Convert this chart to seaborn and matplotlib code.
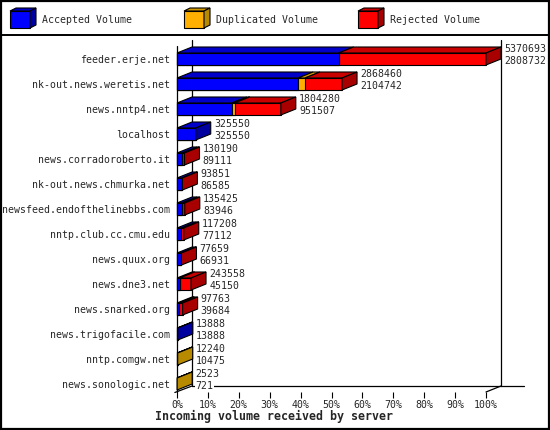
import matplotlib
matplotlib.use("Agg")
import matplotlib.pyplot as plt
from matplotlib.patches import Polygon, Rectangle
import numpy as np
import pandas as pd
import seaborn as sns

# ---------------- data ----------------
servers = ["feeder.erje.net", "nk-out.news.weretis.net", "news.nntp4.net", "localhost",
           "news.corradoroberto.it", "nk-out.news.chmurka.net", "newsfeed.endofthelinebbs.com",
           "nntp.club.cc.cmu.edu", "news.quux.org", "news.dne3.net", "news.snarked.org",
           "news.trigofacile.com", "nntp.comgw.net", "news.sonologic.net"]
total_volume = [5370693, 2868460, 1804280, 325550, 130190, 93851, 135425,
                117208, 77659, 243558, 97763, 13888, 12240, 2523]
accepted_volume = [2808732, 2104742, 951507, 325550, 89111, 86585, 83946,
                   77112, 66931, 45150, 39684, 13888, 10475, 721]
duplicated_volume = [0, 120000, 50000, 0, 0, 0, 0, 0, 0, 0, 0, 0, 1765, 1802]
rejected_volume = [2561961, 643718, 802773, 0, 41079, 7266, 51479,
                   40096, 10728, 198408, 58079, 0, 0, 0]
tick_values = [0, 10, 20, 30, 40, 50, 60, 70, 80, 90, 100]
legend_labels = ["Accepted Volume", "Duplicated Volume", "Rejected Volume"]
title_text = "Incoming volume received by server"

# ---------------- style ----------------
sns.set_style("white")
plt.rcParams["font.family"] = ["DejaVu Sans Mono"]
FS = 6.9

BLUE = ("#0000FF", "#0000C8", "#0000A0")
ORANGE = ("#FFB000", "#D09A00", "#B88A00")
RED = ("#FF0000", "#C80000", "#A80000")

df = pd.DataFrame({
    "server": servers,
    "total": total_volume,
    "accepted": accepted_volume,
    "duplicated": duplicated_volume,
    "rejected": rejected_volume,
})
vmax = df["total"].max()
df["acc_pct"] = df["accepted"] / vmax * 100
df["accdup_pct"] = (df["accepted"] + df["duplicated"]) / vmax * 100
df["tot_pct"] = (df["accepted"] + df["duplicated"] + df["rejected"]) / vmax * 100

W, H = 550, 430
fig = plt.figure(figsize=(W / 100, H / 100), dpi=100)
fig.patch.set_facecolor("white")

# main axes: x 0..100 maps to px 177..486, rows at px 59 + 25*i
ax_left, ax_right, ax_top, ax_bot = 177, 486, 40, 392
ax = fig.add_axes([ax_left / W, (H - ax_bot) / H, (ax_right - ax_left) / W, (ax_bot - ax_top) / H])
ax.set_facecolor("none")

BAR_H = 0.48
sns.barplot(data=df, x="tot_pct", y="server", orient="h", color=RED[0], saturation=1,
            width=BAR_H, edgecolor="black", linewidth=0.8, ax=ax, zorder=3)
sns.barplot(data=df, x="accdup_pct", y="server", orient="h", color=ORANGE[0], saturation=1,
            width=BAR_H, edgecolor="black", linewidth=0.8, ax=ax, zorder=3)
sns.barplot(data=df, x="acc_pct", y="server", orient="h", color=BLUE[0], saturation=1,
            width=BAR_H, edgecolor="black", linewidth=0.8, ax=ax, zorder=3)
for p in ax.patches:
    p.set_clip_on(False)

px_per_x = (ax_right - ax_left) / 100.0
row_px = 25.0
DX = 15 / px_per_x
DY = 6 / row_px
y_top = -19 / row_px
y_bot = y_top + (ax_bot - ax_top) / row_px
ax.set_xlim(0, 100)
ax.set_ylim(y_bot, y_top)

# 3D top and side faces
for i, r in df.iterrows():
    segs = [(0, r["acc_pct"], BLUE), (r["acc_pct"], r["accdup_pct"], ORANGE),
            (r["accdup_pct"], r["tot_pct"], RED)]
    segs = [s for s in segs if s[1] - s[0] > 1e-9]
    yt = i - BAR_H / 2
    yb = i + BAR_H / 2
    for x0, x1, c in segs:
        ax.add_patch(Polygon([(x0, yt), (x1, yt), (x1 + DX, yt - DY), (x0 + DX, yt - DY)],
                             closed=True, facecolor=c[1], edgecolor="black", lw=0.8, zorder=4,
                             clip_on=False))
    x0, x1, c = segs[-1]
    ax.add_patch(Polygon([(x1, yt), (x1 + DX, yt - DY), (x1 + DX, yb - DY), (x1, yb)],
                         closed=True, facecolor=c[2], edgecolor="black", lw=0.8, zorder=4,
                         clip_on=False))
    tx = r["tot_pct"] + DX + 1.0
    bb = dict(facecolor="white", edgecolor="none", pad=0.3)
    ax.text(tx, i - 0.40, f"{r['total']}", fontsize=FS + 0.2, va="center", ha="left", zorder=5,
            bbox=bb, clip_on=False)
    ax.text(tx, i + 0.08, f"{r['accepted']}", fontsize=FS + 0.2, va="center", ha="left", zorder=5,
            bbox=bb, clip_on=False)

# frame lines (3D walls)
lk = dict(color="black", lw=0.9, clip_on=False, zorder=1)
ax.plot([0, 0], [y_top + DY, y_bot], **lk)
ax.plot([DX, DX], [y_top, y_bot - DY], **lk)
ax.plot([-0.7, DX], [y_bot + 0.02, y_bot - DY], **lk)
ax.plot([DX, 100 + DX + 7.5], [y_bot - DY, y_bot - DY], **lk)
ax.plot([100 + DX, 100 + DX], [y_top, y_bot - DY], **lk)
ax.plot([100, 100 + DX], [y_bot, y_bot - DY], **lk)

for s in ax.spines.values():
    s.set_visible(False)
ax.set_xticks(tick_values)
ax.set_xticklabels([f"{v}%" for v in tick_values], fontsize=FS + 0.2)
ax.tick_params(axis="x", length=4, width=0.8, pad=1.5, color="black", bottom=True)
ax.set_yticks(range(len(servers)))
ax.set_yticklabels(servers, fontsize=FS + 0.2)
ax.tick_params(axis="y", length=0, pad=5)
ax.set_xlabel("")
ax.set_ylabel("")
ax.grid(False)

# overlay for legend, border, title
ov = fig.add_axes([0, 0, 1, 1], zorder=10)
ov.set_facecolor("none")
ov.set_xlim(0, W)
ov.set_ylim(H, 0)
ov.axis("off")
ov.add_patch(Rectangle((0.8, 0.8), W - 1.6, H - 1.6, fill=False, edgecolor="black", lw=1.6))
ov.plot([0, W], [35, 35], color="black", lw=1.4)

for (bx, lx), cols, lab in zip([(10, 42), (184, 216), (358, 390)], [BLUE, ORANGE, RED], legend_labels):
    ov.add_patch(Rectangle((bx, 11), 20, 17, facecolor=cols[0], edgecolor="black", lw=0.8))
    ov.add_patch(Polygon([(bx, 11), (bx + 20, 11), (bx + 26, 8), (bx + 6, 8)], closed=True,
                         facecolor=cols[1], edgecolor="black", lw=0.8))
    ov.add_patch(Polygon([(bx + 20, 11), (bx + 26, 8), (bx + 26, 25), (bx + 20, 28)], closed=True,
                         facecolor=cols[2], edgecolor="black", lw=0.8))
    ov.text(lx, 20, lab, fontsize=FS + 0.2, va="center", ha="left")

ov.text(155, 416, title_text, fontsize=8.4, fontweight="bold", va="center", ha="left")

fig.savefig("out.png", dpi=100)
